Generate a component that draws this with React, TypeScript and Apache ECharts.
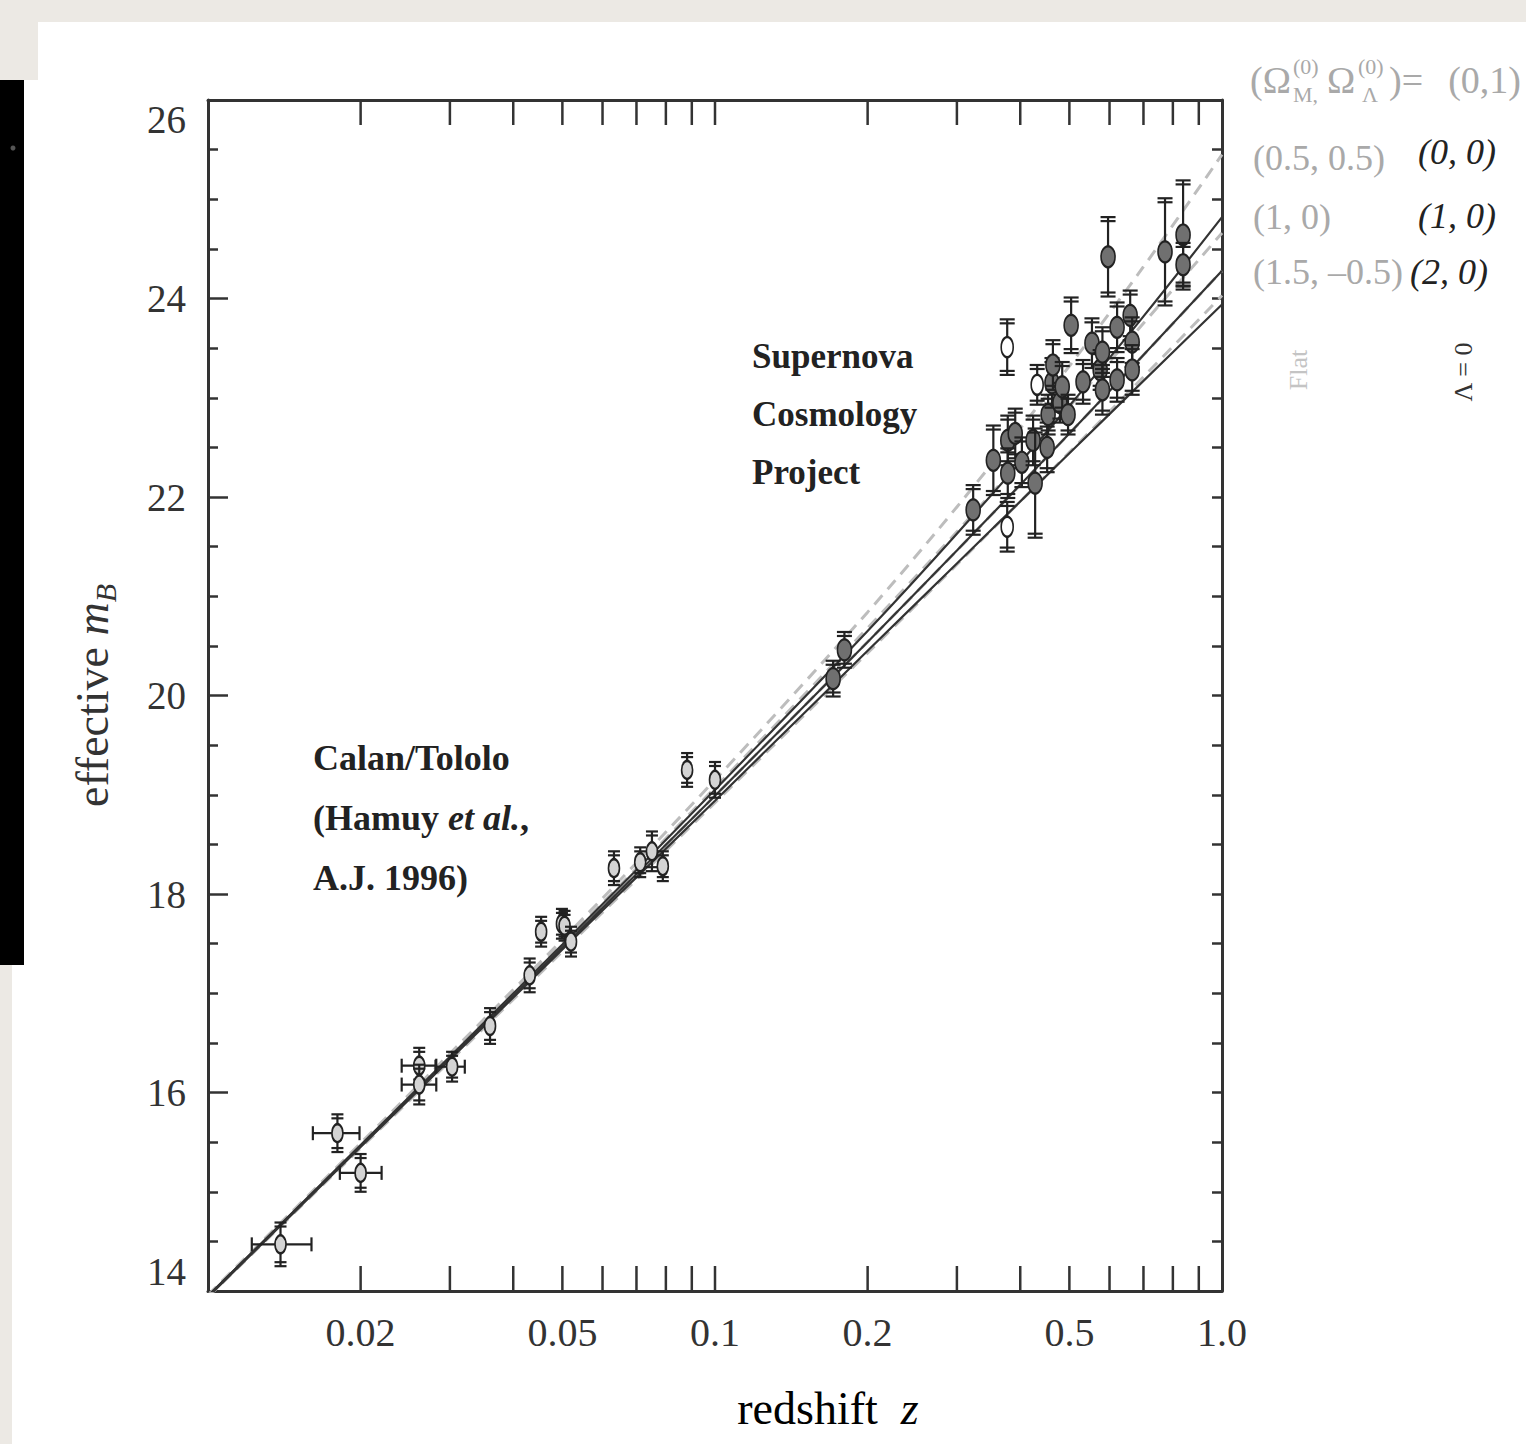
import React, { useEffect, useRef } from 'react';
import * as echarts from 'echarts';

const SERIF = '"Liberation Serif", "Times New Roman", serif';

// axis ticks / labels
const xTickValues = [0.02, 0.03, 0.04, 0.05, 0.06, 0.07, 0.08, 0.09, 0.1, 0.2, 0.3, 0.4, 0.5, 0.6, 0.7, 0.8, 0.9];
const xLabelValues = [0.02, 0.05, 0.1, 0.2, 0.5, 1.0];
const xLabelTexts = ['0.02', '0.05', '0.1', '0.2', '0.5', '1.0'];

// model curves
const modelZ = [0.01, 0.02, 0.05, 0.1, 0.2, 0.3, 0.5, 0.7, 1.0];
const mFlat01 = [13.96, 15.49, 17.54, 19.15, 20.84, 21.9, 23.32, 24.32, 25.45];
const mFlat0505 = [13.95, 15.47, 17.5, 19.07, 20.68, 21.65, 22.91, 23.75, 24.66];
const mFlat10 = [13.95, 15.46, 17.46, 18.99, 20.54, 21.46, 22.64, 23.43, 24.28];
const mFlat15 = [13.94, 15.44, 17.42, 18.92, 20.43, 21.32, 22.45, 23.21, 24.03];
const mL00 = [13.95, 15.47, 17.49, 19.05, 20.65, 21.63, 22.92, 23.82, 24.82];
const mL10 = [13.95, 15.46, 17.46, 18.99, 20.54, 21.46, 22.64, 23.43, 24.28];
const mL20 = [13.94, 15.45, 17.44, 18.94, 20.45, 21.33, 22.44, 23.17, 23.94];

// Calan/Tololo supernovae
const ctZ = [0.0139, 0.018, 0.02, 0.0261, 0.0261, 0.0303, 0.036, 0.0431, 0.0454, 0.0499, 0.0505, 0.052, 0.0632, 0.0712, 0.0751, 0.0789, 0.0881, 0.1];
const ctM = [14.47, 15.59, 15.19, 16.27, 16.08, 16.26, 16.67, 17.18, 17.62, 17.7, 17.68, 17.52, 18.26, 18.32, 18.43, 18.28, 19.25, 19.15];
const ctErr = [0.22, 0.19, 0.19, 0.18, 0.2, 0.15, 0.18, 0.17, 0.15, 0.15, 0.15, 0.15, 0.17, 0.15, 0.2, 0.15, 0.17, 0.18];
const ctZLo = [0.0122, 0.0161, 0.0182, 0.0241, 0.0241, 0.0281, null, null, null, null, null, null, null, null, null, null, null, null];
const ctZHi = [0.016, 0.0199, 0.022, 0.0282, 0.0282, 0.0321, null, null, null, null, null, null, null, null, null, null, null, null];

// Supernova Cosmology Project, filled
const scpZ = [0.171, 0.18, 0.323, 0.354, 0.378, 0.391, 0.378, 0.403, 0.424, 0.428, 0.452, 0.454, 0.462, 0.464, 0.479, 0.484, 0.497, 0.504, 0.532, 0.554, 0.575, 0.581, 0.581, 0.596, 0.621, 0.621, 0.659, 0.665, 0.665, 0.772, 0.838, 0.838];
const scpM = [20.17, 20.46, 21.87, 22.37, 22.57, 22.64, 22.24, 22.35, 22.57, 22.14, 22.5, 22.83, 23.15, 23.33, 22.95, 23.11, 22.83, 23.73, 23.16, 23.55, 23.28, 23.46, 23.08, 24.42, 23.71, 23.18, 23.83, 23.56, 23.28, 24.47, 24.64, 24.34];
const scpErr = [0.18, 0.18, 0.25, 0.35, 0.25, 0.25, 0.25, 0.25, 0.25, 0.55, 0.25, 0.2, 0.25, 0.25, 0.2, 0.25, 0.2, 0.28, 0.22, 0.25, 0.2, 0.25, 0.25, 0.4, 0.25, 0.22, 0.25, 0.25, 0.25, 0.54, 0.55, 0.22];

// Supernova Cosmology Project, open
const scpOpenZ = [0.377, 0.377, 0.432];
const scpOpenM = [23.51, 21.7, 23.13];
const scpOpenErr = [0.28, 0.25, 0.2];

function makeErrRenderer(
  zs: number[], ms: number[], errs: number[], zlo: (number | null)[] | null, zhi: (number | null)[] | null,
  opt: { capW: number; rx: number; ry: number; fill: string }
) {
  return (params: any, api: any) => {
    const i = params.dataIndex;
    const c = api.coord([zs[i], ms[i]]);
    const top = api.coord([zs[i], ms[i] + errs[i]]);
    const bot = api.coord([zs[i], ms[i] - errs[i]]);
    const ls = { stroke: '#222', lineWidth: 2.2 };
    const children: any[] = [];
    children.push({ type: 'line', shape: { x1: c[0], y1: top[1], x2: c[0], y2: bot[1] }, style: ls });
    [[top[1], 1], [bot[1], -1]].forEach(([y, d]) => {
      children.push({ type: 'line', shape: { x1: c[0] - opt.capW, y1: y, x2: c[0] + opt.capW, y2: y }, style: ls });
      children.push({ type: 'line', shape: { x1: c[0] - opt.capW, y1: y + d * 4, x2: c[0] + opt.capW, y2: y + d * 4 }, style: ls });
    });
    if (zlo && zhi && zlo[i] != null && zhi[i] != null) {
      const l = api.coord([zlo[i], ms[i]]);
      const r = api.coord([zhi[i], ms[i]]);
      children.push({ type: 'line', shape: { x1: l[0], y1: c[1], x2: r[0], y2: c[1] }, style: ls });
      children.push({ type: 'line', shape: { x1: l[0], y1: c[1] - 7, x2: l[0], y2: c[1] + 7 }, style: ls });
      children.push({ type: 'line', shape: { x1: r[0], y1: c[1] - 7, x2: r[0], y2: c[1] + 7 }, style: ls });
    }
    children.push({
      type: 'circle', x: c[0], y: c[1], scaleY: opt.ry / opt.rx,
      shape: { cx: 0, cy: 0, r: opt.rx },
      style: { fill: opt.fill, stroke: '#222', lineWidth: 1.6 },
    });
    return { type: 'group', children };
  };
}

function curve(ms: number[]) {
  return modelZ.map((z, i) => [z, ms[i]]);
}

export default function App() {
  const ref = useRef<HTMLDivElement>(null);
  useEffect(() => {
    if (!ref.current) return;
    const chart = echarts.init(ref.current, undefined, { renderer: 'svg' });
    const gray = '#a9a9a9';
    const dashed = (name: string, ms: number[]) => ({
      name, type: 'line', data: curve(ms), showSymbol: false, smooth: 0.3, z: 3,
      lineStyle: { color: '#bdbdbd', width: 3, type: [12, 8] },
    });
    const solid = (name: string, ms: number[]) => ({
      name, type: 'line', data: curve(ms), showSymbol: false, smooth: 0.3, z: 4,
      lineStyle: { color: '#333', width: 2.2 },
    });
    const gtext = (x: number, y: number, text: string, font: string, fill: string, align = 'left') => ({
      type: 'text', x, y, style: { text, font, fill, textAlign: align, textVerticalAlign: 'middle' },
    });
    const option: any = {
      animation: false,
      backgroundColor: '#ece9e4',
      grid: { left: 208, top: 100, width: 1014, height: 1191 },
      xAxis: [
        {
          type: 'log', logBase: 10, min: 0.01, max: 1, position: 'bottom',
          axisLine: { show: true, lineStyle: { color: '#333', width: 3 } },
          axisTick: { show: false }, axisLabel: { show: false }, splitLine: { show: false },
        },
        {
          type: 'log', logBase: 10, min: 0.01, max: 1, position: 'top',
          axisLine: { show: true, lineStyle: { color: '#333', width: 3 } },
          axisTick: { show: false }, axisLabel: { show: false }, splitLine: { show: false },
        },
      ],
      yAxis: [
        {
          type: 'value', min: 14, max: 26, interval: 2, position: 'left',
          axisLine: { show: true, lineStyle: { color: '#333', width: 3 } },
          axisTick: { show: true, inside: true, length: 20, lineStyle: { color: '#333', width: 2.5 } },
          minorTick: { show: true, splitNumber: 4, length: 10, lineStyle: { color: '#333', width: 2.5 } },
          splitLine: { show: false },
          axisLabel: {
            fontFamily: SERIF, fontSize: 39, color: '#333', margin: 22,
            verticalAlignMaxLabel: 'top', verticalAlignMinLabel: 'bottom',
          },
          name: '{a|effective }{m|m}{b|B}',
          nameLocation: 'middle', nameGap: 88,
          nameTextStyle: {
            fontFamily: SERIF, fontSize: 46, color: '#333',
            rich: {
              a: { fontFamily: SERIF, fontSize: 46, color: '#333' },
              m: { fontFamily: SERIF, fontSize: 46, color: '#333', fontStyle: 'italic' },
              b: { fontFamily: SERIF, fontSize: 30, color: '#333', fontStyle: 'italic', padding: [26, 0, 0, 0] },
            },
          },
        },
        {
          type: 'value', min: 14, max: 26, interval: 2, position: 'right',
          axisLine: { show: true, lineStyle: { color: '#333', width: 3 } },
          axisTick: { show: true, inside: true, length: 10, lineStyle: { color: '#333', width: 2.5 } },
          minorTick: { show: true, splitNumber: 4, length: 10, lineStyle: { color: '#333', width: 2.5 } },
          splitLine: { show: false }, axisLabel: { show: false },
        },
      ],
      graphic: [
        { type: 'rect', z: -100, shape: { x: 38, y: 22, width: 1500, height: 60 }, style: { fill: '#ffffff' } },
        { type: 'rect', z: -100, shape: { x: 12, y: 80, width: 1530, height: 1380 }, style: { fill: '#ffffff' } },
        { type: 'rect', z: -99, shape: { x: 0, y: 80, width: 24, height: 885 }, style: { fill: '#000000' } },
        { type: 'circle', z: -98, shape: { cx: 13, cy: 148, r: 2.5 }, style: { fill: '#555' } },
        // annotations
        ...['Supernova', 'Cosmology', 'Project'].map((t, i) => gtext(752, 356 + i * 58, t, `bold 35px ${SERIF}`, '#222')),
        gtext(313, 758, 'Calan/Tololo', `bold 36px ${SERIF}`, '#222'),
        {
          type: 'text', x: 313, y: 818,
          style: {
            text: '(Hamuy {i|et al.},', font: `bold 36px ${SERIF}`, fill: '#222', textAlign: 'left', textVerticalAlign: 'middle',
            rich: { i: { fontFamily: SERIF, fontSize: 36, fontWeight: 'bold', fontStyle: 'italic', fill: '#222', color: '#222' } },
          },
        },
        gtext(313, 878, 'A.J. 1996)', `bold 36px ${SERIF}`, '#222'),
        // x axis name
        {
          type: 'text', x: 828, y: 1408,
          style: {
            text: '{a|redshift  }{b|z}', textAlign: 'center', textVerticalAlign: 'middle',
            rich: {
              a: { fontFamily: SERIF, fontSize: 46, color: '#333' },
              b: { fontFamily: SERIF, fontSize: 46, color: '#333', fontStyle: 'italic' },
            },
          },
        },
        // legend block
        gtext(1250, 80, '(Ω', `38px ${SERIF}`, gray),
        gtext(1293, 66, '(0)', `22px ${SERIF}`, gray),
        gtext(1293, 94, 'M,', `22px ${SERIF}`, gray),
        gtext(1327, 80, 'Ω', `38px ${SERIF}`, gray),
        gtext(1358, 66, '(0)', `22px ${SERIF}`, gray),
        gtext(1362, 94, 'Λ', `22px ${SERIF}`, gray),
        gtext(1389, 80, ')=', `38px ${SERIF}`, gray),
        gtext(1521, 80, '(0,1)', `38px ${SERIF}`, gray, 'right'),
        gtext(1253, 158, '(0.5, 0.5)', `36px ${SERIF}`, gray),
        gtext(1253, 217, '(1, 0)', `36px ${SERIF}`, gray),
        gtext(1253, 272, '(1.5, –0.5)', `36px ${SERIF}`, gray),
        gtext(1418, 152, '(0, 0)', `italic 36px ${SERIF}`, '#222'),
        gtext(1418, 216, '(1, 0)', `italic 36px ${SERIF}`, '#222'),
        gtext(1410, 272, '(2, 0)', `italic 36px ${SERIF}`, '#222'),
        { type: 'text', x: 1298, y: 370, rotation: Math.PI / 2, style: { text: 'Flat', font: `26px ${SERIF}`, fill: '#c4c4c4', textAlign: 'center', textVerticalAlign: 'middle' } },
        { type: 'text', x: 1463, y: 372, rotation: Math.PI / 2, style: { text: 'Λ = 0', font: `26px ${SERIF}`, fill: '#333', textAlign: 'center', textVerticalAlign: 'middle' } },
      ],
      series: [
        dashed('(0,1)', mFlat01),
        dashed('(0.5,0.5)', mFlat0505),
        dashed('(1,0) flat', mFlat10),
        dashed('(1.5,-0.5)', mFlat15),
        solid('(0,0)', mL00),
        solid('(1,0)', mL10),
        solid('(2,0)', mL20),
        {
          name: 'xticks', type: 'custom', z: 5, silent: true,
          data: xTickValues.map((z) => [z, 14]),
          renderItem: (params: any, api: any) => {
            const z = xTickValues[params.dataIndex];
            const b = api.coord([z, 14]);
            const t = api.coord([z, 26]);
            const ls = { stroke: '#333', lineWidth: 2.5 };
            return {
              type: 'group',
              children: [
                { type: 'line', shape: { x1: b[0], y1: b[1], x2: b[0], y2: b[1] - 25 }, style: ls },
                { type: 'line', shape: { x1: t[0], y1: t[1], x2: t[0], y2: t[1] + 25 }, style: ls },
              ],
            };
          },
        },
        {
          name: 'xlabels', type: 'custom', z: 5, silent: true,
          data: xLabelValues.map((z) => [z, 14]),
          renderItem: (params: any, api: any) => {
            const i = params.dataIndex;
            const b = api.coord([xLabelValues[i], 14]);
            return {
              type: 'text', x: b[0], y: b[1] + 41,
              style: { text: xLabelTexts[i], font: `40px ${SERIF}`, fill: '#333', textAlign: 'center', textVerticalAlign: 'middle' },
            };
          },
        },
        {
          name: 'Calan/Tololo', type: 'custom', z: 6,
          data: ctZ.map((z, i) => [z, ctM[i]]),
          renderItem: makeErrRenderer(ctZ, ctM, ctErr, ctZLo, ctZHi, { capW: 6, rx: 5.5, ry: 9, fill: '#d4d4d4' }),
        },
        {
          name: 'SCP', type: 'custom', z: 6,
          data: scpZ.map((z, i) => [z, scpM[i]]),
          renderItem: makeErrRenderer(scpZ, scpM, scpErr, null, null, { capW: 7.5, rx: 7, ry: 10.5, fill: '#707070' }),
        },
        {
          name: 'SCP open', type: 'custom', z: 7,
          data: scpOpenZ.map((z, i) => [z, scpOpenM[i]]),
          renderItem: makeErrRenderer(scpOpenZ, scpOpenM, scpOpenErr, null, null, { capW: 7.5, rx: 6, ry: 10, fill: '#ffffff' }),
        },
      ],
    };
    chart.setOption(option);
    return () => chart.dispose();
  }, []);
  return <div ref={ref} style={{ position: 'absolute', left: 0, top: 0, width: 1526, height: 1444 }} />;
}
